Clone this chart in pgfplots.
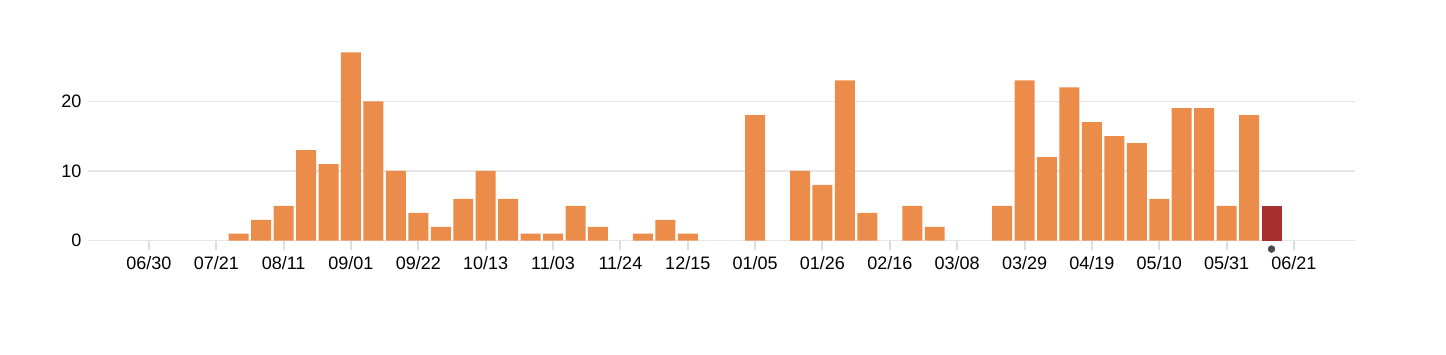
\documentclass[border=0pt]{standalone}
\usepackage{fontspec}
\setmainfont{Liberation Sans}
\usepackage{pgfplots}
\pgfplotsset{compat=1.18}
\definecolor{barorange}{HTML}{EC8C4B}
\definecolor{barred}{HTML}{A62F30}
\definecolor{dotgray}{HTML}{474C52}
\definecolor{gridgray}{HTML}{E6E6E6}
\definecolor{tickgray}{HTML}{DDDDDD}
\begin{document}
\begin{tikzpicture}
\path (0,0) rectangle (1446pt,354pt);
\begin{axis}[
  at={(88.3pt,113.3pt)}, anchor=south west,
  scale only axis, width=1266.7pt, height=195.2pt,
  xmin=-2.70, xmax=53.72, ymin=0, ymax=28,
  clip=false,
  axis line style={draw=none},
  xtick={0,3,...,51},
  xticklabels={06/30,07/21,08/11,09/01,09/22,10/13,11/03,11/24,12/15,01/05,01/26,02/16,03/08,03/29,04/19,05/10,05/31,06/21},
  ytick={0,10,20},
  xtick pos=lower, ytick pos=left,
  tick align=outside, major tick length=9.3pt,
  x tick style={draw=tickgray, line width=2pt},
  y tick style={draw=none},
  ymajorgrids, grid style={draw=gridgray, line width=1.5pt},
  /pgf/number format/assume math mode=true,
  tick label style={font=\fontsize{18}{20}\selectfont, inner sep=0pt},
  xticklabel style={anchor=base, yshift=-19.4pt},
  yticklabel style={anchor=east, xshift=2.7pt},
]
\addplot[ybar, bar width=0.89, fill=barorange, draw=none] coordinates {
(4,1) (5,3) (6,5) (7,13) (8,11) (9,27) (10,20) (11,10) (12,4) (13,2)
(14,6) (15,10) (16,6) (17,1) (18,1) (19,5) (20,2) (22,1) (23,3) (24,1)
(27,18) (29,10) (30,8) (31,23) (32,4) (34,5) (35,2) (38,5) (39,23) (40,12)
(41,22) (42,17) (43,15) (44,14) (45,6) (46,19) (47,19) (48,5) (49,18)
};
\addplot[ybar, bar width=0.89, fill=barred, draw=none] coordinates {(50,5)};
\addplot[only marks, mark=*, mark size=3.5pt, color=dotgray] coordinates {(50,-1.2)};
\end{axis}
\end{tikzpicture}
\end{document}
